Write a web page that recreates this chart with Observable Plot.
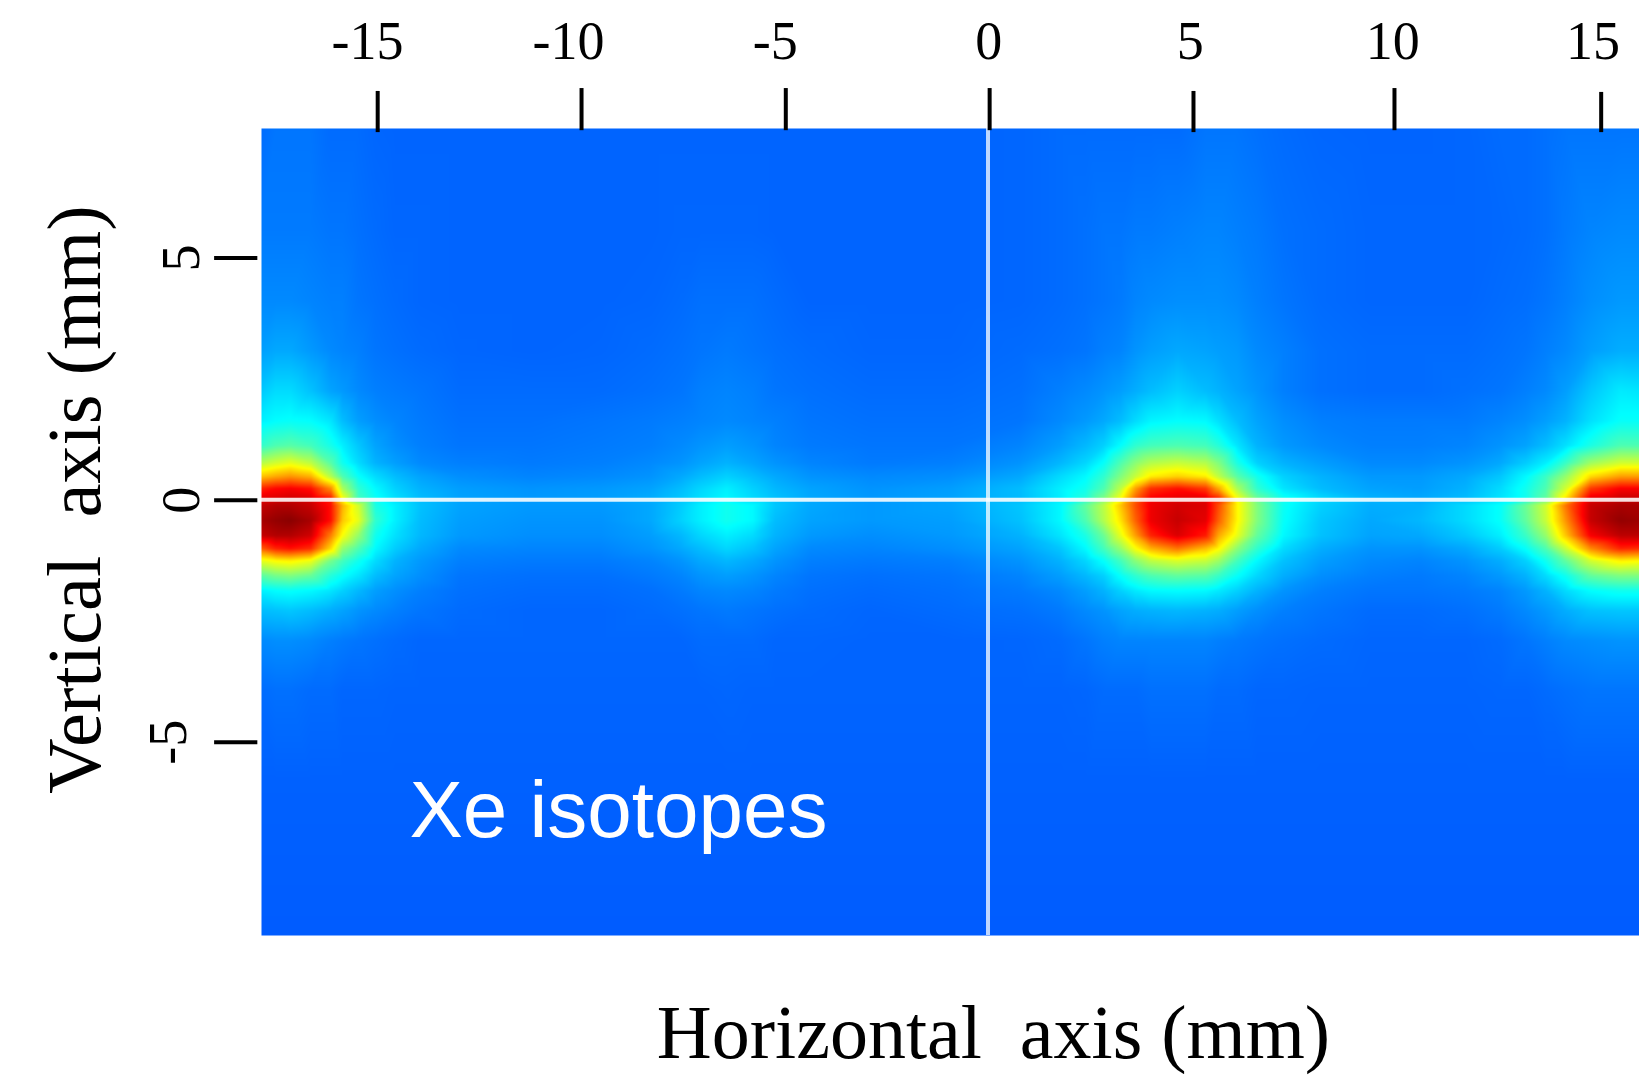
<!DOCTYPE html>
<html>
<head>
<meta charset="utf-8">
<style>html,body{margin:0;padding:0;background:#fff}svg{display:block}</style>
<script src="https://cdn.jsdelivr.net/npm/d3@7"></script>
<script src="https://cdn.jsdelivr.net/npm/@observablehq/plot@0.6"></script>
</head>
<body>
<script>
const xLabel = "Horizontal  axis (mm)";
const yLabel = "Vertical  axis (mm)";
const note = "Xe isotopes";

const xTicks = [-15.01, -10.01, -5, 0, 5, 9.93, 15];
const xTickTop = [8.44, 8.5, 8.5, 8.5, 8.44, 8.5, 8.42];
const xTickBottom = [7.59, 7.63, 7.63, 7.63, 7.59, 7.63, 7.59];
const xTickLabels = ["-15", "-10", "-5", "0", "5", "10", "15"];
const xTickLabelAt = [-15.26, -10.33, -5.26, -0.02, 4.92, 9.89, 14.8];
const yTicks = [5, 0, -5];
const yTickLabels = ["5", "0", "-5"];
const yTickLabelAt = [-19.4, -19.4, -19.7];

// sample positions of the intensity map (mm)
const colX = [-17.9,-17.51,-17.15,-16.65,-16.16,-15.87,-15.48,-15.06,-14.57,-13.96,
  -12.98,-11.26,-9.54,-8.31,-7.58,-7.09,-6.45,-5.81,-5.25,-4.39,
  -2.92,-0.96,0.76,1.74,2.35,2.8,3.21,3.58,3.95,4.61,
  5.3,5.62,6.08,6.57,7.21,8.12,9.35,10.57,11.68,12.53,
  13.15,13.64,14.13,14.74,15.48,16];
const rowY = [7.72,5.57,4.12,3.09,2.26,1.64,1.13,0.77,0.49,0.24,0.03,-0.11,-0.42,-0.73,-1,-1.25,-1.56,-1.87,-2.28,-2.9,-3.94,-5.8,-9.05];

// intensity at each sample, in percent of the colour range
const intensity = [
[23,24,24,24,23,23,23,22.5,22.3,22.3, 22.3,22.3,22.3,22.3,22.3,22.3,22.3,22.3,22.3,22.3, 22.3,22.3,22.5,23,23,23,23,23,23,23, 24,24,24,23.5,23,22.5,22.3,22.3,22.5,23, 23,23.5,24,24,24,24],
[24.5,24.5,24.5,24.5,24,24,23.5,23,22.5,22.5, 22.3,22.3,22.3,22.3,22.5,22.5,22.5,22.5,22.3,22.3, 22.3,22.3,22.5,23,23.5,24,24,24.5,24.5,25, 25.5,25.5,25,24.5,23.5,23,22.5,22.5,22.5,22.7, 23,23.5,24.5,25.5,26,26],
[26,26,26,25.5,25,25,24,23.5,23,22.5, 22.3,22.3,22.3,22.5,23,23.5,23.5,23.5,23,22.3, 22.3,22.3,22.5,23,23.5,24,24.5,25.5,26,26.5, 26.5,26.5,26,25,24,23,22.5,22.5,22.5,23, 23.3,24,25,26.5,27.5,27.5],
[28,29,29,27.5,26,25.5,25,24,23.5,23, 22.5,22.3,22.5,23,23.5,24,24.5,24,23.5,23, 22.5,22.5,23,23.5,24,25,25.5,27,28,29, 28.5,28,27.5,26,25,23.5,23,23,23,23.5, 24,25,26,28,29.5,29.5],
[32,34,34,31.5,28.5,27.5,26,25,24.5,24, 23,23,23,23.5,24,25,25.5,25,24,23.5, 23,23,23.5,25,26,27,28,29.5,31,33, 31,30,28.5,27,25,23.5,23,23,23.5,24, 25,26,28,32,35.5,35],
[36,37.5,38,37.5,35,31,28,26.5,25.5,24.5, 23.5,23.5,24,24.5,25,25.5,26,25.5,25,24, 23.5,23.5,24,26,27.5,29,31,34,36.5,37.5, 37,34.5,31,28.5,26.5,25,24.5,24.5,24.5,25.5, 26.5,28,30,34.5,38,38],
[42,45,46,44,39.5,36,32,28.5,26.5,25, 24,24,24.5,25,26,27,28,27,25.5,24.5, 24,24,25.5,28,30.5,33,37.5,42,44,45, 44,41,35,30,27.5,26,25,25,25.5,27, 28.5,31,34.5,40,45,45],
[55,58,60,56,46,39,34,30,28,26, 25,24.5,25,26,27,28.5,30,28.5,27,25.5, 24.5,25,27,30.5,33.5,38,45,51,55,57, 55,50,40,33,30,28,26,26,27,29, 32.5,36,43,53,58,58],
[68,71,73,70,55,45,38,34,31,28.5, 26.5,25.5,26,27,29,31,33,31,29,27, 26,26.5,29,34,37,42,50,57,64,67, 64,56,46,39,33,30,27.5,27.5,29,32, 37,43,52,66,72,72],
[84,87,88,86,74,54,42,37,33,30, 28,27,27.5,28.5,31,33.5,36,33,30.5,28.5, 27,28,31,36,39,45,56,72,83,86, 82,71,54,42,35,31,28.5,28,30,34, 39,45,58,82,88,88],
[90,91,92,91,85,62,44,38.5,34.5,31, 28.5,27.5,28,29.5,32,34.5,37,34,31.5,29, 27.5,28.5,31,36,41,50,62,78,88,90, 90,84,62,48,39,34,30,29,31,35, 39,47,65,90,93,93],
[93,95,95,93,86,70,58,40,36,31.5, 28.5,27.5,27.5,29,32.5,36,39,37,32,29, 27.5,28.5,32,37,47,56,68,80,89,92, 91,80,63,50,38.5,33,29.5,30,34,38, 48,58,76,93,96,96],
[96,98,99,96,86,68,60,42,36,31, 28,27,27,29,33,36,39,37,31,28.5, 27.5,28,31.5,37,45,55,65,78,89,93, 90,78,63,50,38,32,29,30.5,34,38, 47,57,73,93,98,97],
[93,95,95,92,75,62,52,39,34.5,30.5, 27.5,26.5,26.5,28,30.5,33.5,36,34,30,27.5, 26.5,27.5,30,35,40,48,60,72,84,91, 85,71,60,47,37,31.5,28.5,29,32,36, 43,52,68,88,94,94],
[78,84,86,83,66,52,45,37,32.5,29, 26,25.5,25.5,27,29,31,33.5,31.5,28.5,26, 25.5,26.5,28.5,32,37,44,52,62,70,76, 69,63,51,42,34,29.5,27,27,29,32.5, 38,45,57,74,84,83],
[60,63,64,61,49,44,39,34,30,27.5, 25,24.5,24.5,25.5,27,29,30.5,29,27,25, 24.5,25,27,30,33.5,38,44,51,56,59, 57,53,44,37,31.5,28,26,25.5,27,29.5, 33,39,47,58,64,63],
[46,49,50,47.5,41,38,35,31,28.5,26.5, 24,23.5,23.5,24.5,25.5,27,28,27,25.5,24, 23.5,24,25.5,28,30.5,33,38,42,45,47, 46,43,38,33.5,29.5,26.5,25,24.5,25.5,27.5, 30,34,39,47,50,50],
[36,37.5,38,37,35,33,30.5,28,26.5,25, 23.5,23,23,23.5,24.5,25.5,26,25.5,24.5,23.5, 23,23.5,24.5,26,28,30,33,35.5,37,37.5, 37,35.5,33,30,27,25,24,24,24.5,25.5, 27.5,30,34,37.5,39,39],
[31,31.5,32,31,29.5,28.5,27,26,25,24, 23,22.5,22.5,23,23.5,24,24.5,24,23.5,23, 22.5,23,23.5,24.5,26,27,28.5,29.5,30,30.5, 30,29.5,28,26.5,25,24,23,23,23.5,24.5, 26,27.5,29.5,31.5,32,32],
[26,26.5,26.5,26,25,24.5,24,23.5,23,22.5, 22.5,22.5,22.5,22.5,22.5,23,23,23,22.5,22.5, 22.3,22.3,22.5,23,24,25,25.5,25.5,25.5,25.5, 25.5,25,24.5,24,23.5,23,22.5,22.5,22.5,23, 24,25,26,26.5,27,27],
[23,23.5,23.5,23,23,22.5,22.5,22.5,22.3,22.3, 22.3,22.3,22.3,22.3,22.3,22.3,22.5,22.3,22.3,22.3, 22.3,22.3,22.3,22.3,22.5,23,23,23,23.5,23.5, 23.5,23,23,22.5,22.5,22.3,22.3,22.3,22.3,22.5, 22.5,23,23.5,24,24,24],
[22,22,22,22,22,22,22,22,22,22, 22,22,22,22,22,22,22,22,22,22, 22,22,22,22,22,22,22,22,22,22, 22,22,22,22,22,22,22,22,22,22, 22,22,22,22,22,22],
[21.5,21.5,21.5,21.5,21.5,21.5,21.5,21.5,21.5,21.5, 21.5,21.5,21.5,21.5,21.5,21.5,21.5,21.5,21.5,21.5, 21.5,21.5,21.5,21.5,21.5,21.5,21.5,21.5,21.5,21.5, 21.5,21.5,21.5,21.5,21.5,21.5,21.5,21.5,21.5,21.5, 21.5,21.5,21.5,21.5,21.5,21.5]
];

const samples = intensity.flatMap((row, j) => {
  if (row.length !== colX.length) throw new Error("row " + j + " has " + row.length);
  return row.map((v, i) => ({x: colX[i], y: rowY[j], v}));
});

const serif = "'Liberation Serif', serif";
const sans = "'Liberation Sans', sans-serif";

const chart = Plot.plot({
  width: 1639, height: 1076,
  marginLeft: 261, marginRight: 0, marginTop: 128, marginBottom: 141,
  style: {background: "#fff", whiteSpace: "pre"},
  x: {domain: [-17.86, 15.94], axis: null},
  y: {domain: [-8.99, 7.675], axis: null},
  color: {type: "linear", interpolate: "rgb",
    domain: [0, 12.5, 37.5, 62.5, 87.5, 100],
    range: ["#000080", "#0000ff", "#00ffff", "#ffff00", "#ff0000", "#800000"]},
  marks: [
    Plot.raster(samples, {x: "x", y: "y", fill: "v", interpolate: "barycentric", pixelSize: 1}),
    Plot.ruleX([-0.04], {stroke: "#fff", strokeWidth: 4, strokeOpacity: 0.75}),
    Plot.ruleY([0.01], {stroke: "#fff", strokeWidth: 4, strokeOpacity: 0.88}),
    Plot.ruleX(xTicks, {x: d => d, y1: (d, i) => xTickTop[i], y2: (d, i) => xTickBottom[i], stroke: "#000", strokeWidth: 4}),
    Plot.ruleY(yTicks, {y: d => d, x1: -19.01, x2: -17.95, stroke: "#000", strokeWidth: 4}),
    Plot.text(xTickLabels, {text: d => d, x: (d, i) => xTickLabelAt[i], y: 9.11, lineAnchor: "bottom", textAnchor: "middle",
      fontFamily: serif, fontSize: 54, fill: "#000"}),
    Plot.text(yTickLabels, {text: d => d, x: (d, i) => yTickLabelAt[i], y: (d, i) => yTicks[i], rotate: -90, lineAnchor: "bottom", textAnchor: "middle",
      fontFamily: serif, fontSize: 54, fill: "#000"}),
    Plot.text([xLabel], {text: d => d, frameAnchor: "bottom", dx: 43, dy: 122, lineAnchor: "bottom", textAnchor: "middle",
      fontFamily: serif, fontSize: 76, fill: "#000"}),
    Plot.text([yLabel], {text: d => d, frameAnchor: "left", dx: -162, dy: -32.5, rotate: -90, lineAnchor: "bottom", textAnchor: "middle",
      fontFamily: serif, fontSize: 76.5, fill: "#000"}),
    Plot.text([note], {text: d => d, frameAnchor: "bottom-left", dx: 148, dy: -99, lineAnchor: "bottom", textAnchor: "start",
      fontFamily: sans, fontSize: 80, fill: "#fff"})
  ]
});
document.body.appendChild(chart);
</script>
</body>
</html>
